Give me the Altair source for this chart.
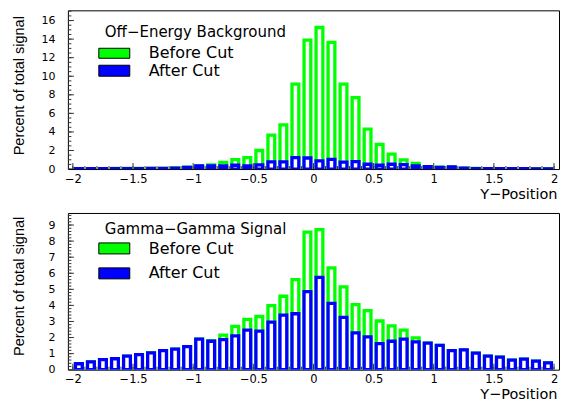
import altair as alt
import pandas as pd

# bin centres (bin width 0.1 from -2 to 2)
bin_centers = [round(-1.95 + 0.1 * i, 2) for i in range(40)]

top_before = [0.05, 0.05, 0.05, 0.06, 0.06, 0.06, 0.07, 0.08, 0.12, 0.20,
              0.34, 0.44, 0.72, 1.02, 1.24, 2.00, 3.65, 4.75, 9.15, 13.9,
              15.25, 13.65, 9.15, 7.70, 4.30, 2.65, 1.60, 1.00, 0.60, 0.27,
              0.20, 0.24, 0.10, 0.06, 0.05, 0.05, 0.05, 0.05, 0.04, 0.04]
top_after = [0.04, 0.04, 0.04, 0.05, 0.05, 0.05, 0.06, 0.07, 0.11, 0.19,
             0.33, 0.34, 0.34, 0.41, 0.34, 0.44, 0.77, 0.77, 1.24, 1.19,
             0.88, 1.04, 0.74, 0.81, 0.52, 0.41, 0.52, 0.48, 0.34, 0.26,
             0.19, 0.23, 0.09, 0.05, 0.04, 0.04, 0.04, 0.04, 0.03, 0.03]
bot_before = [0.37, 0.49, 0.63, 0.68, 0.84, 0.94, 1.05, 1.19, 1.28, 1.44,
              1.90, 1.81, 2.15, 2.70, 3.13, 3.31, 3.98, 4.57, 5.60, 8.56,
              8.71, 6.33, 5.15, 4.05, 3.68, 3.03, 2.73, 2.46, 1.98, 1.65,
              1.51, 1.19, 1.23, 1.03, 0.84, 0.78, 0.59, 0.66, 0.53, 0.43]
bot_after = [0.37, 0.49, 0.63, 0.68, 0.84, 0.94, 1.05, 1.19, 1.28, 1.44,
             1.90, 1.77, 1.87, 2.10, 2.46, 2.40, 2.96, 3.40, 3.48, 4.86,
             5.75, 4.13, 3.26, 2.29, 2.04, 1.62, 1.77, 1.90, 1.73, 1.65,
             1.51, 1.19, 1.23, 1.03, 0.84, 0.78, 0.59, 0.66, 0.53, 0.43]

panel_titles = ["Off\u2212Energy Background", "Gamma\u2212Gamma Signal"]
series_labels = ["Before Cut", "After Cut"]
series_colors = ["#00ff00", "#0000ff"]
x_title = "Y\u2212Position"
y_title = "Percent of total signal"

x_major = [-2, -1.5, -1, -0.5, 0, 0.5, 1, 1.5, 2]
x_minor = [round(-2 + 0.1 * i, 2) for i in range(41)]
top_y_major = [0, 2, 4, 6, 8, 10, 12, 14, 16]
top_y_minor = [round(0.5 * i, 2) for i in range(35)]
bot_y_major = [0, 1, 2, 3, 4, 5, 6, 7, 8, 9]
bot_y_minor = [round(0.2 * i, 2) for i in range(49)]

W = 492
FONT = "DejaVu Sans"


def panel(before, after, title, y_max, y_major, y_minor, H, title_y, leg):
    df = pd.DataFrame({"x": bin_centers, "before": before, "after": after})
    xs = alt.Scale(domain=[-2, 2], nice=False, zero=False)
    ys = alt.Scale(domain=[0, y_max], nice=False, zero=True)
    xaxis = alt.Axis(values=x_major, format="~g", title=x_title, domain=False,
                     ticks=False, tickSize=0, grid=False, labelFont=FONT,
                     labelFontSize=11.5, labelColor="black", labelPadding=4,
                     labelOverlap=False,
                     titleFont=FONT, titleFontSize=14.5, titleFontWeight="normal",
                     titleColor="black", titleAnchor="end", titleAlign="right",
                     titleX=W - 2, titleY=25, titleBaseline="middle",
                     labelFlush=False)
    yaxis = alt.Axis(values=y_major, format="d", title=y_title, domain=False,
                     ticks=False, tickSize=0, grid=False, labelFont=FONT,
                     labelFontSize=11, labelColor="black", labelPadding=13,
                     labelOverlap=False,
                     titleFont="Liberation Sans", titleFontSize=14.5,
                     titleFontWeight="normal", titleColor="black",
                     titleX=-48, titleY=title_y, titleAlign="center",
                     titleBaseline="middle", titleAngle=270)
    base = alt.Chart(df)
    green = base.mark_bar(width=6.8, fill="white", stroke=series_colors[0],
                          strokeWidth=3.3, clip=True).encode(
        x=alt.X("x:Q", scale=xs, axis=xaxis),
        y=alt.Y("before:Q", scale=ys, axis=yaxis))
    blue = base.mark_bar(width=6.8, fill="white", stroke=series_colors[1],
                         strokeWidth=3.3, clip=True).encode(
        x=alt.X("x:Q", scale=xs, axis=xaxis),
        y=alt.Y("after:Q", scale=ys, axis=yaxis))

    xmaj = alt.Chart(pd.DataFrame({"t": x_major})).mark_rule(
        color="#333333", strokeWidth=1, clip=True).encode(
        x=alt.X("t:Q", scale=xs, axis=xaxis),
        y=alt.value(H), y2=alt.value(H - 6))
    xmin = alt.Chart(pd.DataFrame({"t": x_minor})).mark_rule(
        color="#333333", strokeWidth=1, clip=True).encode(
        x=alt.X("t:Q", scale=xs, axis=xaxis),
        y=alt.value(H), y2=alt.value(H - 3))
    ymaj = alt.Chart(pd.DataFrame({"t": y_major})).mark_rule(
        color="#333333", strokeWidth=1, clip=True).encode(
        y=alt.Y("t:Q", scale=ys, axis=yaxis),
        x=alt.value(0), x2=alt.value(6))
    ymin = alt.Chart(pd.DataFrame({"t": y_minor})).mark_rule(
        color="#333333", strokeWidth=1, clip=True).encode(
        y=alt.Y("t:Q", scale=ys, axis=yaxis),
        x=alt.value(0), x2=alt.value(3.5))

    # legend (drawn inside the frame, top-left)
    ty, g0, g1, gt, b0, b1, bt = leg
    leg_title = alt.Chart(pd.DataFrame({"s": [title]})).mark_text(
        font=FONT, fontSize=15, align="left", baseline="middle",
        color="black").encode(text="s:N", x=alt.value(37), y=alt.value(ty))
    sw_g = alt.Chart(pd.DataFrame({"s": [series_labels[0]]})).mark_rect(
        fill=series_colors[0], stroke="black", strokeWidth=1).encode(
        x=alt.value(31), x2=alt.value(62), y=alt.value(g0), y2=alt.value(g1))
    sw_b = alt.Chart(pd.DataFrame({"s": [series_labels[1]]})).mark_rect(
        fill=series_colors[1], stroke="black", strokeWidth=1).encode(
        x=alt.value(31), x2=alt.value(62), y=alt.value(b0), y2=alt.value(b1))
    tx_g = alt.Chart(pd.DataFrame({"s": [series_labels[0]]})).mark_text(
        font=FONT, fontSize=16, align="left", baseline="middle",
        color="black").encode(text="s:N", x=alt.value(81), y=alt.value(gt))
    tx_b = alt.Chart(pd.DataFrame({"s": [series_labels[1]]})).mark_text(
        font=FONT, fontSize=16, align="left", baseline="middle",
        color="black").encode(text="s:N", x=alt.value(81), y=alt.value(bt))

    return alt.layer(green, blue, xmin, xmaj, ymin, ymaj, leg_title,
                     sw_g, sw_b, tx_g, tx_b).properties(width=W, height=H)


top = panel(top_before, top_after, panel_titles[0], 17.1, top_y_major,
            top_y_minor, 159, 75, (22, 38, 48, 43, 55, 66, 61))
bottom = panel(bot_before, bot_after, panel_titles[1], 9.75, bot_y_major,
               bot_y_minor, 157, 73, (16, 30, 41, 36, 55, 66, 60))

chart = alt.vconcat(top, bottom, spacing=11).properties(
    padding={"left": 11, "top": 9, "right": 6, "bottom": 0},
    background="white"
).configure_view(stroke="black", strokeWidth=1).configure_axis(
    labelOverlap=False
).resolve_scale(x="independent", y="independent")

chart.save("out.html", embed_options={"renderer": "svg", "actions": False})
